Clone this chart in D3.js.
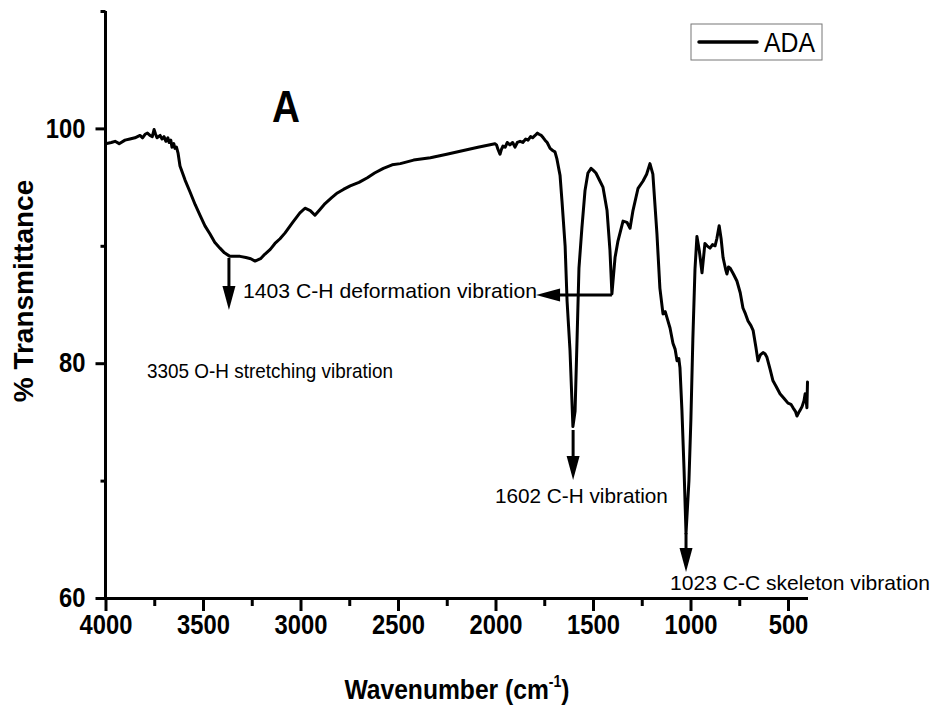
<!DOCTYPE html>
<html><head><meta charset="utf-8">
<script src="https://cdn.jsdelivr.net/npm/d3@7"></script>
<style>body{margin:0;background:#fff}svg{display:block}</style>
</head><body><svg id="chart" width="933" height="708"></svg>
<script>
// ---- data ----
const seriesName = "ADA";
const panelLabel = "A";
const wavenumber = [4000,3970,3951,3930,3900,3875,3849,3823,3810,3797,3785,3772,3760,3751,3743,3736,3720,3710,3700,3690,3680,3674,3665,3659,3650,3644,3636,3628,3618,3605,3592,3567,3540,3515,3490,3464,3440,3413,3390,3362,3335,3310,3280,3255,3233,3205,3182,3155,3131,3105,3079,3040,3003,2977,2950,2926,2900,2874,2840,2811,2780,2745,2700,2657,2620,2575,2530,2488,2420,2334,2250,2170,2090,2003,1995,1987,1977,1970,1962,1950,1940,1926,1912,1900,1888,1874,1860,1845,1833,1820,1810,1797,1785,1777,1765,1755,1746,1735,1720,1705,1695,1685,1669,1659,1643,1633,1618,1603,1592,1582,1572,1557,1541,1526,1510,1497,1485,1464,1449,1428,1413,1403,1387,1372,1346,1326,1310,1295,1269,1244,1225,1208,1193,1172,1157,1141,1130,1121,1105,1090,1079,1069,1060,1054,1044,1033,1023,1008,998,988,977,967,955,941,926,915,900,887,874,865,853,843,833,820,813,805,797,780,762,745,731,718,705,690,679,665,654,642,628,618,608,592,577,560,541,520,500,485,474,462,454,445,438,428,418,412,408,403,400];
const transmittance = [98.7,98.8,98.9,98.7,99.0,99.1,99.2,99.4,99.2,99.5,99.6,99.4,99.3,99.9,99.5,99.2,99.4,99.1,99.3,98.9,99.2,98.8,99.0,98.4,98.7,98.3,98.4,97.9,96.8,96.2,95.6,94.6,93.5,92.6,91.7,91.0,90.3,89.8,89.4,89.1,89.1,89.1,89.0,88.9,88.7,88.9,89.3,89.7,90.2,90.6,91.1,92.0,92.8,93.2,93.0,92.6,93.1,93.6,94.1,94.5,94.8,95.1,95.4,95.8,96.2,96.6,96.9,97.0,97.3,97.5,97.8,98.1,98.4,98.7,98.6,98.2,97.8,98.2,98.5,98.4,98.8,98.6,98.8,98.4,98.8,98.9,98.8,99.1,99.0,99.3,99.2,99.4,99.6,99.5,99.4,99.2,99.0,98.8,98.3,98.1,98.0,97.4,96.0,93.8,90.0,85.3,81.1,74.6,75.9,81.9,88.1,91.5,94.7,96.2,96.6,96.4,96.2,95.5,95.0,93.0,89.6,85.9,89.0,90.4,92.1,92.0,91.5,93.0,94.9,95.5,96.1,97.0,96.1,91.0,86.4,84.2,84.4,83.9,83.0,81.7,81.2,80.2,80.4,79.6,76.0,70.9,65.5,70.0,75.2,82.0,88.0,90.8,89.6,87.7,90.2,90.0,89.8,90.1,90.0,90.6,91.7,90.6,89.0,88.0,87.6,88.2,88.1,87.6,87.0,86.0,84.7,84.2,83.6,83.2,82.8,81.4,80.2,80.7,80.9,80.8,80.5,79.5,78.5,78.0,77.4,77.0,76.6,76.5,76.2,75.9,75.5,75.8,76.0,76.3,76.8,77.4,77.0,76.2,78.4];

const xDomain = [4000, 400];
const yDomain = [60, 110];
const xTicks = [4000,3500,3000,2500,2000,1500,1000,500];
const xMinorTicks = [3750,3250,2750,2250,1750,1250,750];
const yTicks = [60,80,100];
const yMinorTicks = [70,90,110];
const xTitle = "Wavenumber (cm";
const xTitleSup = "-1";
const yTitle = "% Transmittance";

// annotation labels (wavenumber / % anchors)
const annoLabels = ["1403 C-H deformation vibration","3305 O-H stretching vibration","1602 C-H vibration","1023 C-C skeleton vibration"];
const annoWn = [3295, 3787, 2003, 1105];
const annoT = [85.55, 78.74, 68.09, 60.68];
const annoWidths = [294, 246, 173, 260];
// arrows: start (wn,T) -> tip (wn,T)
const arrowFromWn = [3367, 1403, 1602, 1023];
const arrowFromT = [88.96, 85.81, 74.31, 65.54];
const arrowToWn = [3367, 1792, 1602, 1023];
const arrowToT = [84.53, 85.81, 70.05, 62.21];

// ---- drawing ----
const svg = d3.select("#chart");
const FONT = "'Liberation Sans', Arial, Helvetica, sans-serif";
const SQ = 0.88; // horizontal condensation of the original output

const x = d3.scaleLinear().domain(xDomain).range([105.5, 807.5]);
const y = d3.scaleLinear().domain(yDomain).range([598, 11]);

svg.append("rect").attr("width",933).attr("height",708).attr("fill","#fff");

// minor ticks
const yMinor = svg.append("g").attr("transform","translate(105.5,0)")
  .call(d3.axisLeft(y).tickValues(yMinorTicks).tickSize(5).tickSizeOuter(0).tickFormat(""));
const xMinor = svg.append("g").attr("transform","translate(0,598)")
  .call(d3.axisBottom(x).tickValues(xMinorTicks).tickSize(8).tickSizeOuter(0).tickFormat(""));
[yMinor, xMinor].forEach(g => { g.select(".domain").remove(); g.selectAll("line").attr("stroke","#000").attr("stroke-width",3); });

// major axes
const yAxis = svg.append("g").attr("transform","translate(105.5,0)")
  .call(d3.axisLeft(y).tickValues(yTicks).tickSize(10).tickPadding(11).tickSizeOuter(0).tickFormat(d3.format("d")));
const xAxis = svg.append("g").attr("transform","translate(0,598)")
  .call(d3.axisBottom(x).tickValues(xTicks).tickSize(13).tickPadding(4).tickSizeOuter(0).tickFormat(d3.format("d")));
[yAxis, xAxis].forEach(g => {
  g.select(".domain").attr("stroke","#000").attr("stroke-width",3);
  g.selectAll("line").attr("stroke","#000").attr("stroke-width",3);
  g.selectAll("text").attr("fill","#000").style("font-family",FONT).style("font-weight","bold").style("font-size","27px");
});
yAxis.selectAll("text").attr("transform",`scale(${SQ},1)`).attr("x", -20/SQ);
xAxis.selectAll("text").attr("transform",`scale(${SQ},1)`);

// y axis full line extends to top of domain
yAxis.select(".domain").attr("d", `M0,${y(yDomain[0])}V${y(yDomain[1])}`);

// curve
const line = d3.line().x(d => x(d[0])).y(d => y(d[1]));
const pts = wavenumber.map((w,i) => [w, transmittance[i]]);
svg.append("path").datum(pts).attr("d", line)
  .attr("fill","none").attr("stroke","#000").attr("stroke-width",3)
  .attr("stroke-linejoin","round").attr("stroke-linecap","round");

// arrows
function arrow(x1,y1,x2,y2){
  const L = 24, W = 6.5;
  const dx = x2-x1, dy = y2-y1, len = Math.hypot(dx,dy);
  const ux = dx/len, uy = dy/len;
  const bx = x2 - ux*L, by = y2 - uy*L;
  svg.append("line").attr("x1",x1).attr("y1",y1).attr("x2",bx+ux*2).attr("y2",by+uy*2)
    .attr("stroke","#000").attr("stroke-width",3);
  svg.append("path").attr("d",`M${x2},${y2}L${bx - uy*W},${by + ux*W}L${bx + uy*W},${by - ux*W}Z`).attr("fill","#000");
}
arrowFromWn.forEach((w,i) => arrow(x(w), y(arrowFromT[i]), x(arrowToWn[i]), y(arrowToT[i])));

// annotation text
annoLabels.forEach((t,i) => {
  svg.append("text").attr("x", x(annoWn[i])).attr("y", y(annoT[i]))
    .attr("textLength", annoWidths[i]).attr("lengthAdjust","spacingAndGlyphs")
    .style("font-family",FONT).style("font-size","21px").attr("fill","#000").text(t);
});

// panel label
svg.append("text").attr("transform",`translate(272,122) scale(${SQ},1)`)
  .style("font-family",FONT).style("font-weight","bold").style("font-size","44px").attr("fill","#000").text(panelLabel);

// legend
const leg = svg.append("g");
leg.append("rect").attr("x",691).attr("y",24).attr("width",131).attr("height",36)
  .attr("fill","#fff").attr("stroke","#777").attr("stroke-width",1);
leg.append("line").attr("x1",699).attr("x2",757).attr("y1",42).attr("y2",42)
  .attr("stroke","#000").attr("stroke-width",3.5).attr("stroke-linecap","round");
leg.append("text").attr("x",764).attr("y",52).attr("textLength",51).attr("lengthAdjust","spacingAndGlyphs")
  .style("font-family",FONT).style("font-size","28px").attr("fill","#000").text(seriesName);

// axis titles
const xt = svg.append("text").attr("transform",`translate(457,699) scale(${SQ},1)`)
  .attr("text-anchor","middle").style("font-family",FONT).style("font-weight","bold").style("font-size","28px").attr("fill","#000");
xt.append("tspan").text(xTitle);
xt.append("tspan").attr("dy",-12).style("font-size","16px").text(xTitleSup);
xt.append("tspan").attr("dy",12).text(")");

svg.append("text").attr("transform","translate(33,291) rotate(-90)")
  .attr("text-anchor","middle").style("font-family",FONT).style("font-weight","bold").style("font-size","28px").attr("fill","#000").text(yTitle);
</script>
</body></html>
